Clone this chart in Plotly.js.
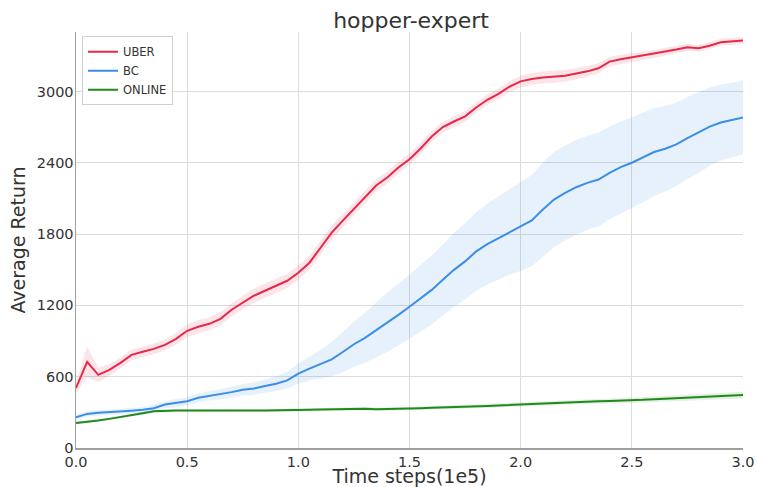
<!DOCTYPE html>
<html>
<head>
<meta charset="utf-8">
<script src="https://cdn.plot.ly/plotly-3.0.1.min.js"></script>
<style>html,body{margin:0;padding:0;background:#fff;}#chart{width:757px;height:487px;}</style>
</head>
<body>
<div id="chart"></div>
<script>
const steps = [0.00,0.05,0.10,0.15,0.20,0.25,0.30,0.35,0.40,0.45,0.50,0.55,0.60,0.65,0.70,0.75,0.80,0.85,0.90,0.95,
1.00,1.05,1.10,1.15,1.20,1.25,1.30,1.35,1.40,1.45,1.50,1.55,1.60,1.65,1.70,1.75,1.80,1.85,1.90,1.95,
2.00,2.05,2.10,2.15,2.20,2.25,2.30,2.35,2.40,2.45,2.50,2.55,2.60,2.65,2.70,2.75,2.80,2.85,2.90,2.95,3.00];

const uberMean = [505,725,615,657,716,784,810,834,868,918,986,1020,1045,1087,1163,1222,1281,1323,1365,1407,
1475,1559,1685,1812,1913,2014,2115,2208,2276,2360,2430,2520,2621,2700,2747,2790,2865,2930,2980,3040,
3085,3105,3118,3122,3132,3150,3169,3195,3251,3270,3285,3300,3315,3335,3352,3372,3363,3385,3414,3422,3428];
const uberStd = [45,130,60,50,45,45,45,45,45,50,55,55,55,55,55,55,60,60,60,60,
60,60,60,60,55,55,55,55,50,50,50,50,45,45,45,45,45,45,45,45,
50,50,50,50,50,48,45,42,40,38,36,35,34,33,32,31,30,30,30,30,30];

const bcMean = [259,287,296,300,307,314,321,335,366,377,394,423,439,451,470,490,501,521,541,569,
625,668,704,746,808,873,927,990,1060,1120,1189,1260,1330,1415,1499,1570,1654,1715,1766,1820,
1865,1915,2006,2090,2146,2194,2231,2259,2315,2363,2400,2442,2490,2518,2555,2608,2653,2704,2738,2761,2780];
const bcStd = [22,22,22,22,22,25,25,30,30,35,35,38,40,42,45,48,52,56,62,70,
85,100,120,145,170,190,210,230,250,260,270,280,290,300,310,320,330,340,350,360,
375,385,395,400,400,400,395,395,390,385,380,375,370,360,350,345,340,330,320,315,310];

const onlineMean = [211,220,231,245,259,279,293,310,315,316,315,314,313,314,315,315,315,315,315,315,
318,321,324,327,330,328,330,326,327,329,332,335,338,340,343,346,349,354,358,362,
366,370,375,380,386,390,392,393,395,397,400,405,411,415,420,424,428,432,437,441,445];
const onlineStd = [12,12,12,12,12,12,12,12,12,12,12,12,12,12,12,12,12,12,12,12,
13,13,13,13,13,13,14,14,14,14,15,15,15,16,16,16,17,17,18,18,
18,19,19,20,20,20,21,21,21,22,22,23,23,24,24,25,25,26,26,27,28];

const seriesNames = ['UBER','BC','ONLINE'];
const lineColors = ['#e8284a','#3a8ee8','#22891f'];
const bandColors = ['rgba(232,40,74,0.12)','rgba(58,142,232,0.12)','rgba(34,137,31,0.12)'];
const means = [uberMean, bcMean, onlineMean];
const stds = [uberStd, bcStd, onlineStd];

const traces = [];
means.forEach((m, i) => {
  const up = m.map((v, k) => v + stds[i][k]);
  const lo = m.map((v, k) => v - stds[i][k]);
  traces.push({
    x: steps.concat(steps.slice().reverse()),
    y: up.concat(lo.slice().reverse()),
    type: 'scatter', mode: 'lines', fill: 'toself',
    fillcolor: bandColors[i], line: {width: 0, color: 'rgba(0,0,0,0)'},
    showlegend: false, hoverinfo: 'skip'
  });
});
means.forEach((m, i) => {
  traces.push({
    x: steps, y: m, type: 'scatter', mode: 'lines',
    name: seriesNames[i], line: {color: lineColors[i], width: 2}
  });
});

const layout = {
  width: 757, height: 487,
  margin: {l: 76, r: 14, t: 32, b: 39},
  paper_bgcolor: '#fff', plot_bgcolor: '#fff',
  font: {family: 'DejaVu Sans, sans-serif', color: '#333'},
  title: {text: 'hopper-expert', x: 0.543, xanchor: 'center', y: 0.958, yanchor: 'middle',
          font: {size: 22, color: '#333', family: 'DejaVu Sans'}},
  xaxis: {
    range: [0, 3.0], tickvals: [0,0.5,1.0,1.5,2.0,2.5,3.0], tickformat: '.1f',
    showgrid: true, gridcolor: '#dcdcdc', gridwidth: 1,
    showline: true, linecolor: '#a0a0a0', linewidth: 1.5, zeroline: false,
    ticks: '', tickfont: {size: 14.5, color: '#333'},
    title: {text: 'Time steps(1e5)', font: {size: 19, color: '#333'}, standoff: 3}
  },
  yaxis: {
    range: [0, 3500], tickvals: [0,600,1200,1800,2400,3000],
    showgrid: true, gridcolor: '#dcdcdc', gridwidth: 1,
    showline: true, linecolor: '#a0a0a0', linewidth: 1.5, zeroline: false,
    ticks: '', tickfont: {size: 14.5, color: '#333'}, ticklabelstandoff: -2,
    title: {text: 'Average Return', font: {size: 19, color: '#333'}, standoff: 6}
  },
  legend: {
    x: 0.009, y: 0.99, xanchor: 'left', yanchor: 'top',
    bgcolor: '#fff', bordercolor: '#d0d0d0', borderwidth: 1,
    font: {size: 11.5, color: '#333'}, itemwidth: 30, tracegroupgap: 0
  },
  showlegend: true
};

Plotly.newPlot('chart', traces, layout, {staticPlot: true, displayModeBar: false});
</script>
</body>
</html>
